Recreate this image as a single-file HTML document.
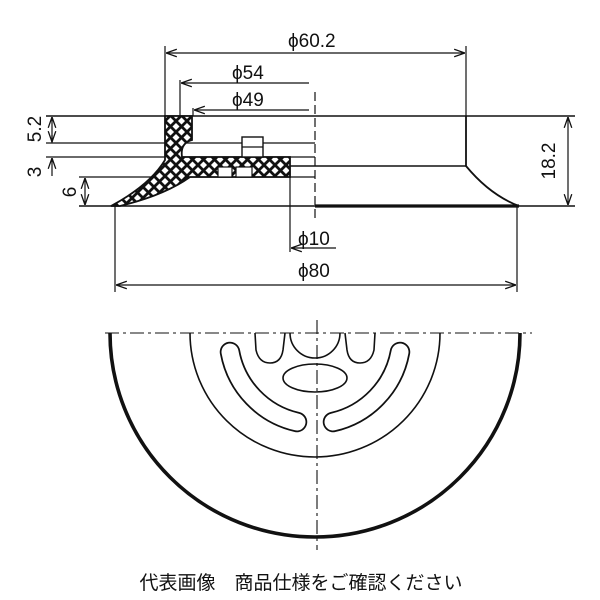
<!DOCTYPE html>
<html><head><meta charset="utf-8"><style>
html,body{margin:0;padding:0;background:#fff;}
svg{display:block}
text{font-family:"Liberation Sans","Noto Sans CJK JP",sans-serif;fill:#111}
</style></head><body>
<svg width="600" height="600" viewBox="0 0 600 600" xmlns="http://www.w3.org/2000/svg">
<defs>
<pattern id="h" width="11" height="11" patternUnits="userSpaceOnUse">
<rect width="11" height="11" fill="#fff"/>
<path d="M-1,-1 L12,12 M-1,12 L12,-1" stroke="#111" stroke-width="2.8"/>
</pattern>
<marker id="a" viewBox="0 0 10 10" refX="10" refY="5" markerWidth="9" markerHeight="9" orient="auto-start-reverse">
<path d="M0,1.5 L10,5 L0,8.5" fill="none" stroke="#111" stroke-width="1.2"/>
</marker>
</defs>
<g stroke="#111" fill="none" stroke-width="1.2">
<line x1="165" y1="46" x2="165" y2="116"/>
<line x1="466" y1="46" x2="466" y2="116"/>
<line x1="166" y1="53" x2="465" y2="53" marker-start="url(#a)" marker-end="url(#a)"/>
<line x1="180" y1="80" x2="180" y2="116"/>
<line x1="181" y1="83" x2="309" y2="83" marker-start="url(#a)"/>
<line x1="193" y1="108" x2="193" y2="116"/>
<line x1="194" y1="110" x2="309" y2="110" marker-start="url(#a)"/>
<line x1="315" y1="92" x2="315" y2="218" stroke-dasharray="9,4"/>
<line x1="46" y1="116" x2="575" y2="116" stroke-width="1.6"/>
<line x1="46" y1="143" x2="315" y2="143"/>
<line x1="46" y1="157" x2="315" y2="157"/>
<line x1="290" y1="166" x2="466" y2="166" stroke-width="1.6"/>
<line x1="79" y1="177" x2="315" y2="177"/>
<line x1="79" y1="206" x2="575" y2="206" stroke-width="1.6"/>
<line x1="315" y1="206" x2="519" y2="206" stroke-width="3.2"/>
<path d="M466,116 L466,166 Q490,195 519,206" stroke-width="1.8"/>
<line x1="52" y1="117" x2="52" y2="142" marker-start="url(#a)" marker-end="url(#a)"/>
<line x1="52" y1="158" x2="52" y2="176" marker-start="url(#a)"/>
<line x1="52" y1="135" x2="52" y2="143"/>
<line x1="85" y1="178" x2="85" y2="205" marker-start="url(#a)" marker-end="url(#a)"/>
<line x1="568" y1="117" x2="568" y2="205" marker-start="url(#a)" marker-end="url(#a)"/>
<line x1="290" y1="166" x2="290" y2="252"/>
<line x1="291" y1="248" x2="336" y2="248" marker-start="url(#a)"/>
<line x1="115" y1="206" x2="115" y2="292"/>
<line x1="517" y1="206" x2="517" y2="292"/>
<line x1="116" y1="285" x2="516" y2="285" marker-start="url(#a)" marker-end="url(#a)"/>
<path d="M165,116 L192,116 L192,140 Q180,143 182,157 L290,157 L290,177 L190,177 Q165,195 120,206 L111,206 Q150,185 165,160 Z" fill="url(#h)" stroke-width="1.8"/>
<rect x="242" y="137" width="21" height="20" fill="#fff" stroke-width="1.4"/>
<line x1="242" y1="147" x2="263" y2="147"/>
<rect x="218" y="167" width="14" height="10" fill="#fff"/>
<rect x="236" y="167" width="16" height="10" fill="#fff"/>
</g>
<text x="288" y="47" font-size="19">ϕ60.2</text>
<text x="232" y="79" font-size="19">ϕ54</text>
<text x="232" y="106" font-size="19">ϕ49</text>
<text x="298" y="245" font-size="19">ϕ10</text>
<text x="298" y="277" font-size="19">ϕ80</text>
<text transform="translate(41,129) rotate(-90)" font-size="19" text-anchor="middle">5.2</text>
<text transform="translate(41,172) rotate(-90)" font-size="19" text-anchor="middle">3</text>
<text transform="translate(76,192) rotate(-90)" font-size="19" text-anchor="middle">6</text>
<text transform="translate(555,161) rotate(-90)" font-size="19" text-anchor="middle">18.2</text>
<g stroke="#111" fill="none">
<line x1="105" y1="333" x2="532" y2="333" stroke-dasharray="14,4,3,4" stroke-width="1.1"/>
<line x1="317" y1="320" x2="317" y2="550" stroke-dasharray="14,4,3,4" stroke-width="1.1"/>
<path d="M110,333 A205,204 0 0 0 520,333" stroke-width="3.6"/>
<path d="M190,333 A125,124 0 0 0 440,333" stroke-width="1.6"/>
<path d="M290,333 A25,25 0 0 0 340,333" stroke-width="1.6"/>
<path d="M255,333 L256,350 Q259,363 270,363 Q281,363 283,350 L285,333" stroke-width="1.6"/>
<path d="M345,333 L347,350 Q349,363 360,363 Q371,363 374,350 L375,333" stroke-width="1.6"/>
<ellipse cx="315" cy="378" rx="32" ry="14" stroke-width="1.6"/>
<path d="M230,352 A88,88 0 0 0 297,422" stroke-width="20.5" stroke-linecap="round"/>
<path d="M230,352 A88,88 0 0 0 297,422" stroke-width="17" stroke="#fff" stroke-linecap="round"/>
<path d="M400,352 A88,88 0 0 1 333,422" stroke-width="20.5" stroke-linecap="round"/>
<path d="M400,352 A88,88 0 0 1 333,422" stroke-width="17" stroke="#fff" stroke-linecap="round"/>
</g>
<text x="301" y="589" font-size="19" text-anchor="middle">代表画像　商品仕様をご確認ください</text>
</svg>
</body></html>
